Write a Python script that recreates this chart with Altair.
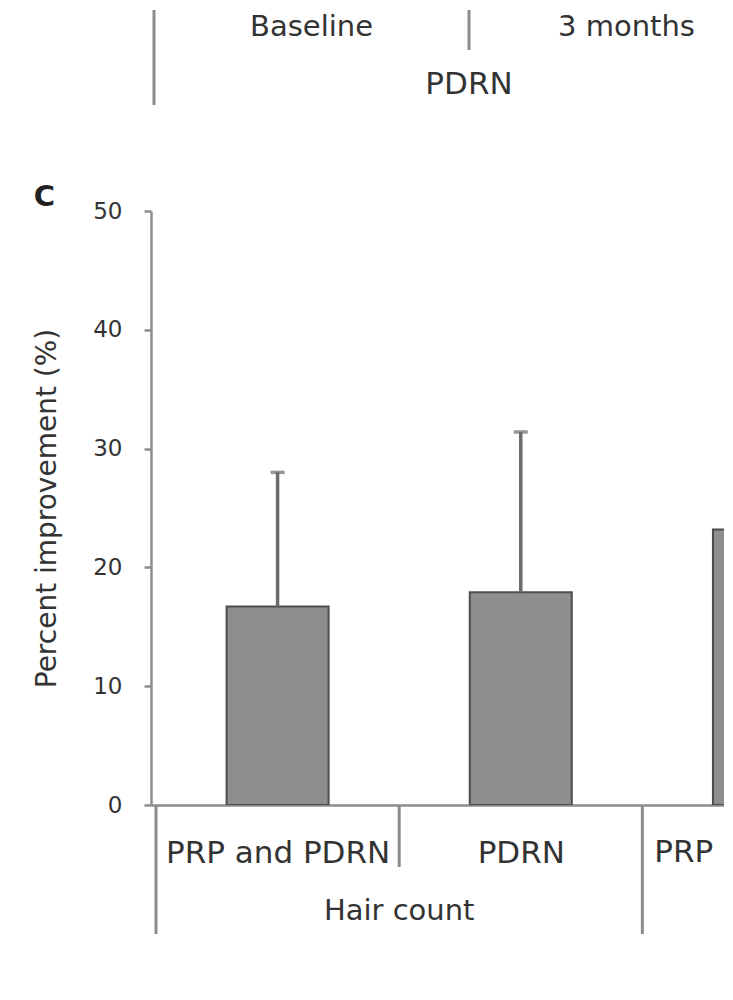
import altair as alt
import pandas as pd

# ---------------- data ----------------
# Panel B: only its category axis is visible at the top of the crop
b_categories = ["Baseline", "3 months"]
b_groups = ["PDRN", "PDRN"]

# Panel C
c_categories = ["PRP and PDRN", "PDRN", "PRP and PDRN"]
c_groups = ["Hair count", "Hair count", ""]
c_values = [16.7, 17.9, 23.2]
c_sd = [11.3, 13.5, None]

y_ticks = [0, 10, 20, 30, 40, 50]
y_title = "Percent improvement (%)"
panel_letter = "C"

# ---------------- style ----------------
FONT = "DejaVu Sans"
TXT = "#333333"
AX = "#8c8c8c"
BAR_FILL = "#8e8e8e"
BAR_STROKE = "#4d4d4d"
ERR = "#6b6b6b"

PLOT_W = 573          # visible part of the plot area (crop)
BAND_B = 315
BAND_C = 247.5


def boundaries(groups):
    rows = []
    for i, g in enumerate(groups):
        rows.append({"b": i - 0.5, "long": i == 0 or g != groups[i - 1]})
    return pd.DataFrame(rows)


def group_centers(groups):
    df = pd.DataFrame({"idx": range(len(groups)), "group": groups})
    df = df[df["group"] != ""]
    return df.groupby("group", as_index=False)["idx"].mean().rename(columns={"idx": "center"})


def label_expr(cats):
    arr = "[" + ",".join("'" + c + "'" for c in cats) + "]"
    return arr + "[round(datum.value)]"


# ---------------- panel B (axis remnant) ----------------
nb = len(b_categories)
dfB = pd.DataFrame({"idx": range(nb), "cat": b_categories})
bB = boundaries(b_groups)
gB = group_centers(b_groups)
b_lo = -0.5 - 3 / BAND_B
xscaleB = alt.Scale(domain=[b_lo, b_lo + PLOT_W / BAND_B], nice=False, zero=False)

b_long = alt.Chart(bB[bB["long"]]).mark_rule(color=AX, strokeWidth=3).encode(
    x=alt.X("b:Q", scale=xscaleB, axis=None),
    y=alt.value(0), y2=alt.value(95),
)
b_short = alt.Chart(bB[~bB["long"]]).mark_rule(color=AX, strokeWidth=3).encode(
    x="b:Q", y=alt.value(0), y2=alt.value(40),
)
b_labels = alt.Chart(dfB).mark_text(font=FONT, fontSize=29, color=TXT, baseline="middle").encode(
    x="idx:Q", y=alt.value(17), text="cat:N",
)
b_text = alt.Chart(gB).mark_text(font=FONT, fontSize=31, color=TXT, baseline="middle").encode(
    x="center:Q", y=alt.value(75), text="group:N",
)
chartB = alt.layer(b_long, b_short, b_labels, b_text).properties(width=PLOT_W, height=1)

# ---------------- panel C ----------------
n = len(c_categories)
dfC = pd.DataFrame({"idx": range(n), "cat": c_categories, "group": c_groups,
                    "value": c_values, "sd": c_sd})
err = dfC.dropna(subset=["sd"]).copy()
err["upper"] = err["value"] + err["sd"]
bC = boundaries(c_groups)
gC = group_centers(c_groups)

c_hi = -0.5 + PLOT_W / BAND_C
visible = [i for i in range(n) if i <= c_hi - 0.3]
cut = dfC[dfC["idx"] > c_hi - 0.3].copy()          # categories cut off by the crop
cut["start"] = cut["idx"] - 0.5

HC = 594
xscaleC = alt.Scale(domain=[-0.5, c_hi], nice=False, zero=False)
yscaleC = alt.Scale(domain=[0, 50], nice=False, zero=True)

x_axis = alt.Axis(
    values=visible, labelExpr=label_expr(c_categories), title=None,
    ticks=False, grid=False, domainColor=AX, domainWidth=2.5,
    labelFont=FONT, labelFontSize=31, labelColor=TXT, labelPadding=33,
    labelFlush=False, labelOverlap=False, labelBound=False, labelLimit=0,
)
y_axis = alt.Axis(
    values=y_ticks, title=y_title, grid=False, tickSize=7, tickColor=AX, tickWidth=2.5,
    domainColor=AX, domainWidth=2.5, labelFont=FONT, labelFontSize=23, labelColor=TXT,
    labelPadding=22, titleFont=FONT, titleFontSize=28, titleFontWeight="normal",
    titleColor=TXT, titlePadding=31,
)

bars = alt.Chart(dfC).mark_bar(size=102, fill=BAR_FILL, stroke=BAR_STROKE, strokeWidth=2,
                               clip=True).encode(
    x=alt.X("idx:Q", scale=xscaleC, axis=x_axis),
    y=alt.Y("value:Q", scale=yscaleC, axis=y_axis),
)
err_rule = alt.Chart(err).mark_rule(color=ERR, strokeWidth=3.5).encode(
    x="idx:Q", y="value:Q", y2="upper:Q",
)
err_cap = alt.Chart(err).mark_tick(orient="horizontal", size=14, thickness=3.5, color=ERR).encode(
    x="idx:Q", y="upper:Q",
)
sep_long = alt.Chart(bC[bC["long"]]).mark_rule(color=AX, strokeWidth=3).encode(
    x="b:Q", y=alt.value(HC), y2=alt.value(HC + 129),
)
sep_short = alt.Chart(bC[~bC["long"]]).mark_rule(color=AX, strokeWidth=3).encode(
    x="b:Q", y=alt.value(HC), y2=alt.value(HC + 62),
)
grp_text = alt.Chart(gC).mark_text(font=FONT, fontSize=29, color=TXT, baseline="middle").encode(
    x="center:Q", y=alt.value(HC + 106), text="group:N",
)
# label of the category that the crop cuts off: only its start is visible
cut_text = alt.Chart(cut).mark_text(font=FONT, fontSize=31, color=TXT, baseline="middle",
                                    align="left", dx=12, limit=76, ellipsis=" ").encode(
    x="start:Q", y=alt.value(HC + 48), text="cat:N",
)

chartC = alt.layer(bars, err_rule, err_cap, sep_long, sep_short, grp_text, cut_text).properties(
    width=PLOT_W, height=HC,
    title=alt.TitleParams(panel_letter, anchor="start", frame="bounds", font=FONT,
                          fontSize=29, fontWeight="bold", color="#222222", offset=-12),
)

chart = alt.vconcat(chartB, chartC, spacing=76).properties(
    padding={"left": 25, "top": 0, "right": 0, "bottom": 0}, background="white"
).configure_view(strokeWidth=0)

chart.save("out.html", embed_options={"renderer": "svg", "actions": False})
